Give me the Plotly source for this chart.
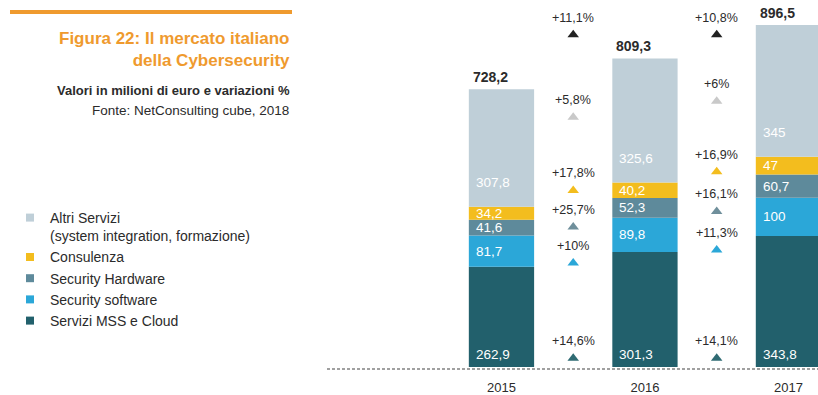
import plotly.graph_objects as go

# ---- data (milioni di euro) ----
years = ["2015", "2016", "2017"]
totals = [728.2, 809.3, 896.5]
mss = [262.9, 301.3, 343.8]
software = [81.7, 89.8, 100.0]
hardware = [41.6, 52.3, 60.7]
consulenza = [34.2, 40.2, 47.0]
altri = [307.8, 325.6, 345.0]

# year-on-year changes (2015->2016, 2016->2017)
growth_total = ["+11,1%", "+10,8%"]
growth_altri = ["+5,8%", "+6%"]
growth_consulenza = ["+17,8%", "+16,9%"]
growth_hardware = ["+25,7%", "+16,1%"]
growth_software = ["+10%", "+11,3%"]
growth_mss = ["+14,6%", "+14,1%"]

# ---- layout / style ----
W, H = 818, 395
M_L, M_R, M_T, M_B = 327, 0, 0, 21
PX_PER_UNIT = 0.3845
ZERO_PX = 370
Y_MIN = -(H - M_B - ZERO_PX) / PX_PER_UNIT
Y_MAX = ZERO_PX / PX_PER_UNIT
X_RANGE = [-1.216, 2.206]
BAR_W = 0.455

C_ALTRI = "#bfcfd8"
C_CONS = "#f3bd1e"
C_HW = "#5e8a9b"
C_SW = "#2ba7d8"
C_MSS = "#22606c"
C_TEXT = "#2b2b2b"
C_ORANGE = "#ef9a2e"
FONT = "Liberation Sans, Arial, sans-serif"

# vertical placement (data units) of each change marker row, per gap
growth_rows = [
    (growth_total, "#222222", [871, 871]),
    (growth_altri, "#c9c9c9", [655, 697]),
    (growth_consulenza, C_CONS, [463, 512]),
    (growth_hardware, "#6f8f9b", [367, 408]),
    (growth_software, C_SW, [273, 307]),
    (growth_mss, "#2f6b73", [23, 23]),
]

segments = [
    ("Servizi MSS e Cloud", mss, C_MSS, "bottom"),
    ("Security software", software, C_SW, "middle"),
    ("Security Hardware", hardware, C_HW, "middle"),
    ("Consulenza", consulenza, C_CONS, "middle"),
    ("Altri Servizi<br>(system integration, formazione)", altri, C_ALTRI, "low"),
]


def fmt(v):
    if float(v).is_integer():
        return str(int(v))
    return f"{v:.1f}".replace(".", ",")


def px_x(px):
    return (px - M_L) / (W - M_L - M_R)


def px_y(py):
    return (H - M_B - py) / (H - M_T - M_B)


xs = list(range(len(years)))
fig = go.Figure()
annotations = []

base = [0.0] * len(years)
for name, vals, color, pos in segments:
    fig.add_trace(go.Bar(
        x=xs, y=vals, base=base[:], width=BAR_W,
        marker=dict(color=color, line=dict(width=0)),
        showlegend=False, hoverinfo="skip",
    ))
    for i, v in enumerate(vals):
        if pos == "bottom":
            y, ya, ys = base[i], "bottom", 3
        elif pos == "low":
            y, ya, ys = base[i], "bottom", 15
        else:
            y, ya, ys = base[i] + v / 2, "middle", 0
        annotations.append(dict(
            x=xs[i] - BAR_W / 2, y=y, xref="x", yref="y",
            xanchor="left", yanchor=ya, xshift=5, yshift=ys,
            text=fmt(v), showarrow=False,
            font=dict(family=FONT, size=13.5, color="white"),
        ))
    base = [b + v for b, v in zip(base, vals)]

# totals above bars
for i, t in enumerate(totals):
    annotations.append(dict(
        x=xs[i] - BAR_W / 2, y=t, xref="x", yref="y",
        xanchor="left", yanchor="bottom", xshift=2, yshift=2,
        text=f"<b>{fmt(t)}</b>", showarrow=False,
        font=dict(family=FONT, size=14, color=C_TEXT),
    ))

# change markers between the bars
gap_x = [0.5, 1.5]
for labels, color, ys in growth_rows:
    fig.add_trace(go.Scatter(
        x=gap_x, y=ys, mode="markers",
        marker=dict(symbol="triangle-up", size=10, color=color, line=dict(width=0)),
        showlegend=False, hoverinfo="skip",
    ))
    for gx, gy, lab in zip(gap_x, ys, labels):
        annotations.append(dict(
            x=gx, y=gy, xref="x", yref="y", yanchor="middle", yshift=17,
            text=lab, showarrow=False,
            font=dict(family=FONT, size=12.5, color=C_TEXT),
        ))

# legend entries (small squares)
for name, vals, color, pos in reversed(segments):
    fig.add_trace(go.Scatter(
        x=[None], y=[None], mode="markers", name=name,
        marker=dict(symbol="square", size=8, color=color),
    ))

# title block
annotations += [
    dict(x=px_x(292), y=px_y(50), xref="paper", yref="paper",
         xanchor="right", yanchor="middle", align="right", showarrow=False,
         text="<b>Figura 22: Il mercato italiano<br>della Cybersecurity</b>",
         font=dict(family=FONT, size=17, color=C_ORANGE)),
    dict(x=px_x(292), y=px_y(91), xref="paper", yref="paper",
         xanchor="right", yanchor="middle", showarrow=False,
         text="<b>Valori in milioni di euro e variazioni %</b>",
         font=dict(family=FONT, size=13, color=C_TEXT)),
    dict(x=px_x(291), y=px_y(111), xref="paper", yref="paper",
         xanchor="right", yanchor="middle", showarrow=False,
         text="Fonte: NetConsulting cube, 2018",
         font=dict(family=FONT, size=13.5, color=C_TEXT)),
]

shapes = [
    dict(type="line", xref="paper", yref="paper",
         x0=px_x(10), x1=px_x(292), y0=px_y(12), y1=px_y(12),
         line=dict(color=C_ORANGE, width=4)),
    dict(type="line", xref="paper", yref="y", x0=0, x1=1, y0=-5, y1=-5,
         line=dict(color="#a0a0a0", width=2, dash="3px,2px")),
]

fig.update_layout(
    width=W, height=H,
    margin=dict(l=M_L, r=M_R, t=M_T, b=M_B),
    paper_bgcolor="white", plot_bgcolor="white",
    barmode="overlay",
    font=dict(family=FONT, color=C_TEXT),
    xaxis=dict(range=X_RANGE, tickvals=xs, ticktext=years, showgrid=False,
               zeroline=False, showline=False, ticks="", ticklabelstandoff=7,
               tickfont=dict(family=FONT, size=13, color=C_TEXT), fixedrange=True),
    yaxis=dict(range=[Y_MIN, Y_MAX], visible=False, fixedrange=True),
    legend=dict(xref="container", yref="container", x=10 / W, y=1 - 202 / H,
                xanchor="left", yanchor="top", traceorder="normal",
                valign="top", itemwidth=30, bgcolor="rgba(0,0,0,0)",
                font=dict(family=FONT, size=14, color=C_TEXT)),
    annotations=annotations,
    shapes=shapes,
)

fig.write_html("out.html")
